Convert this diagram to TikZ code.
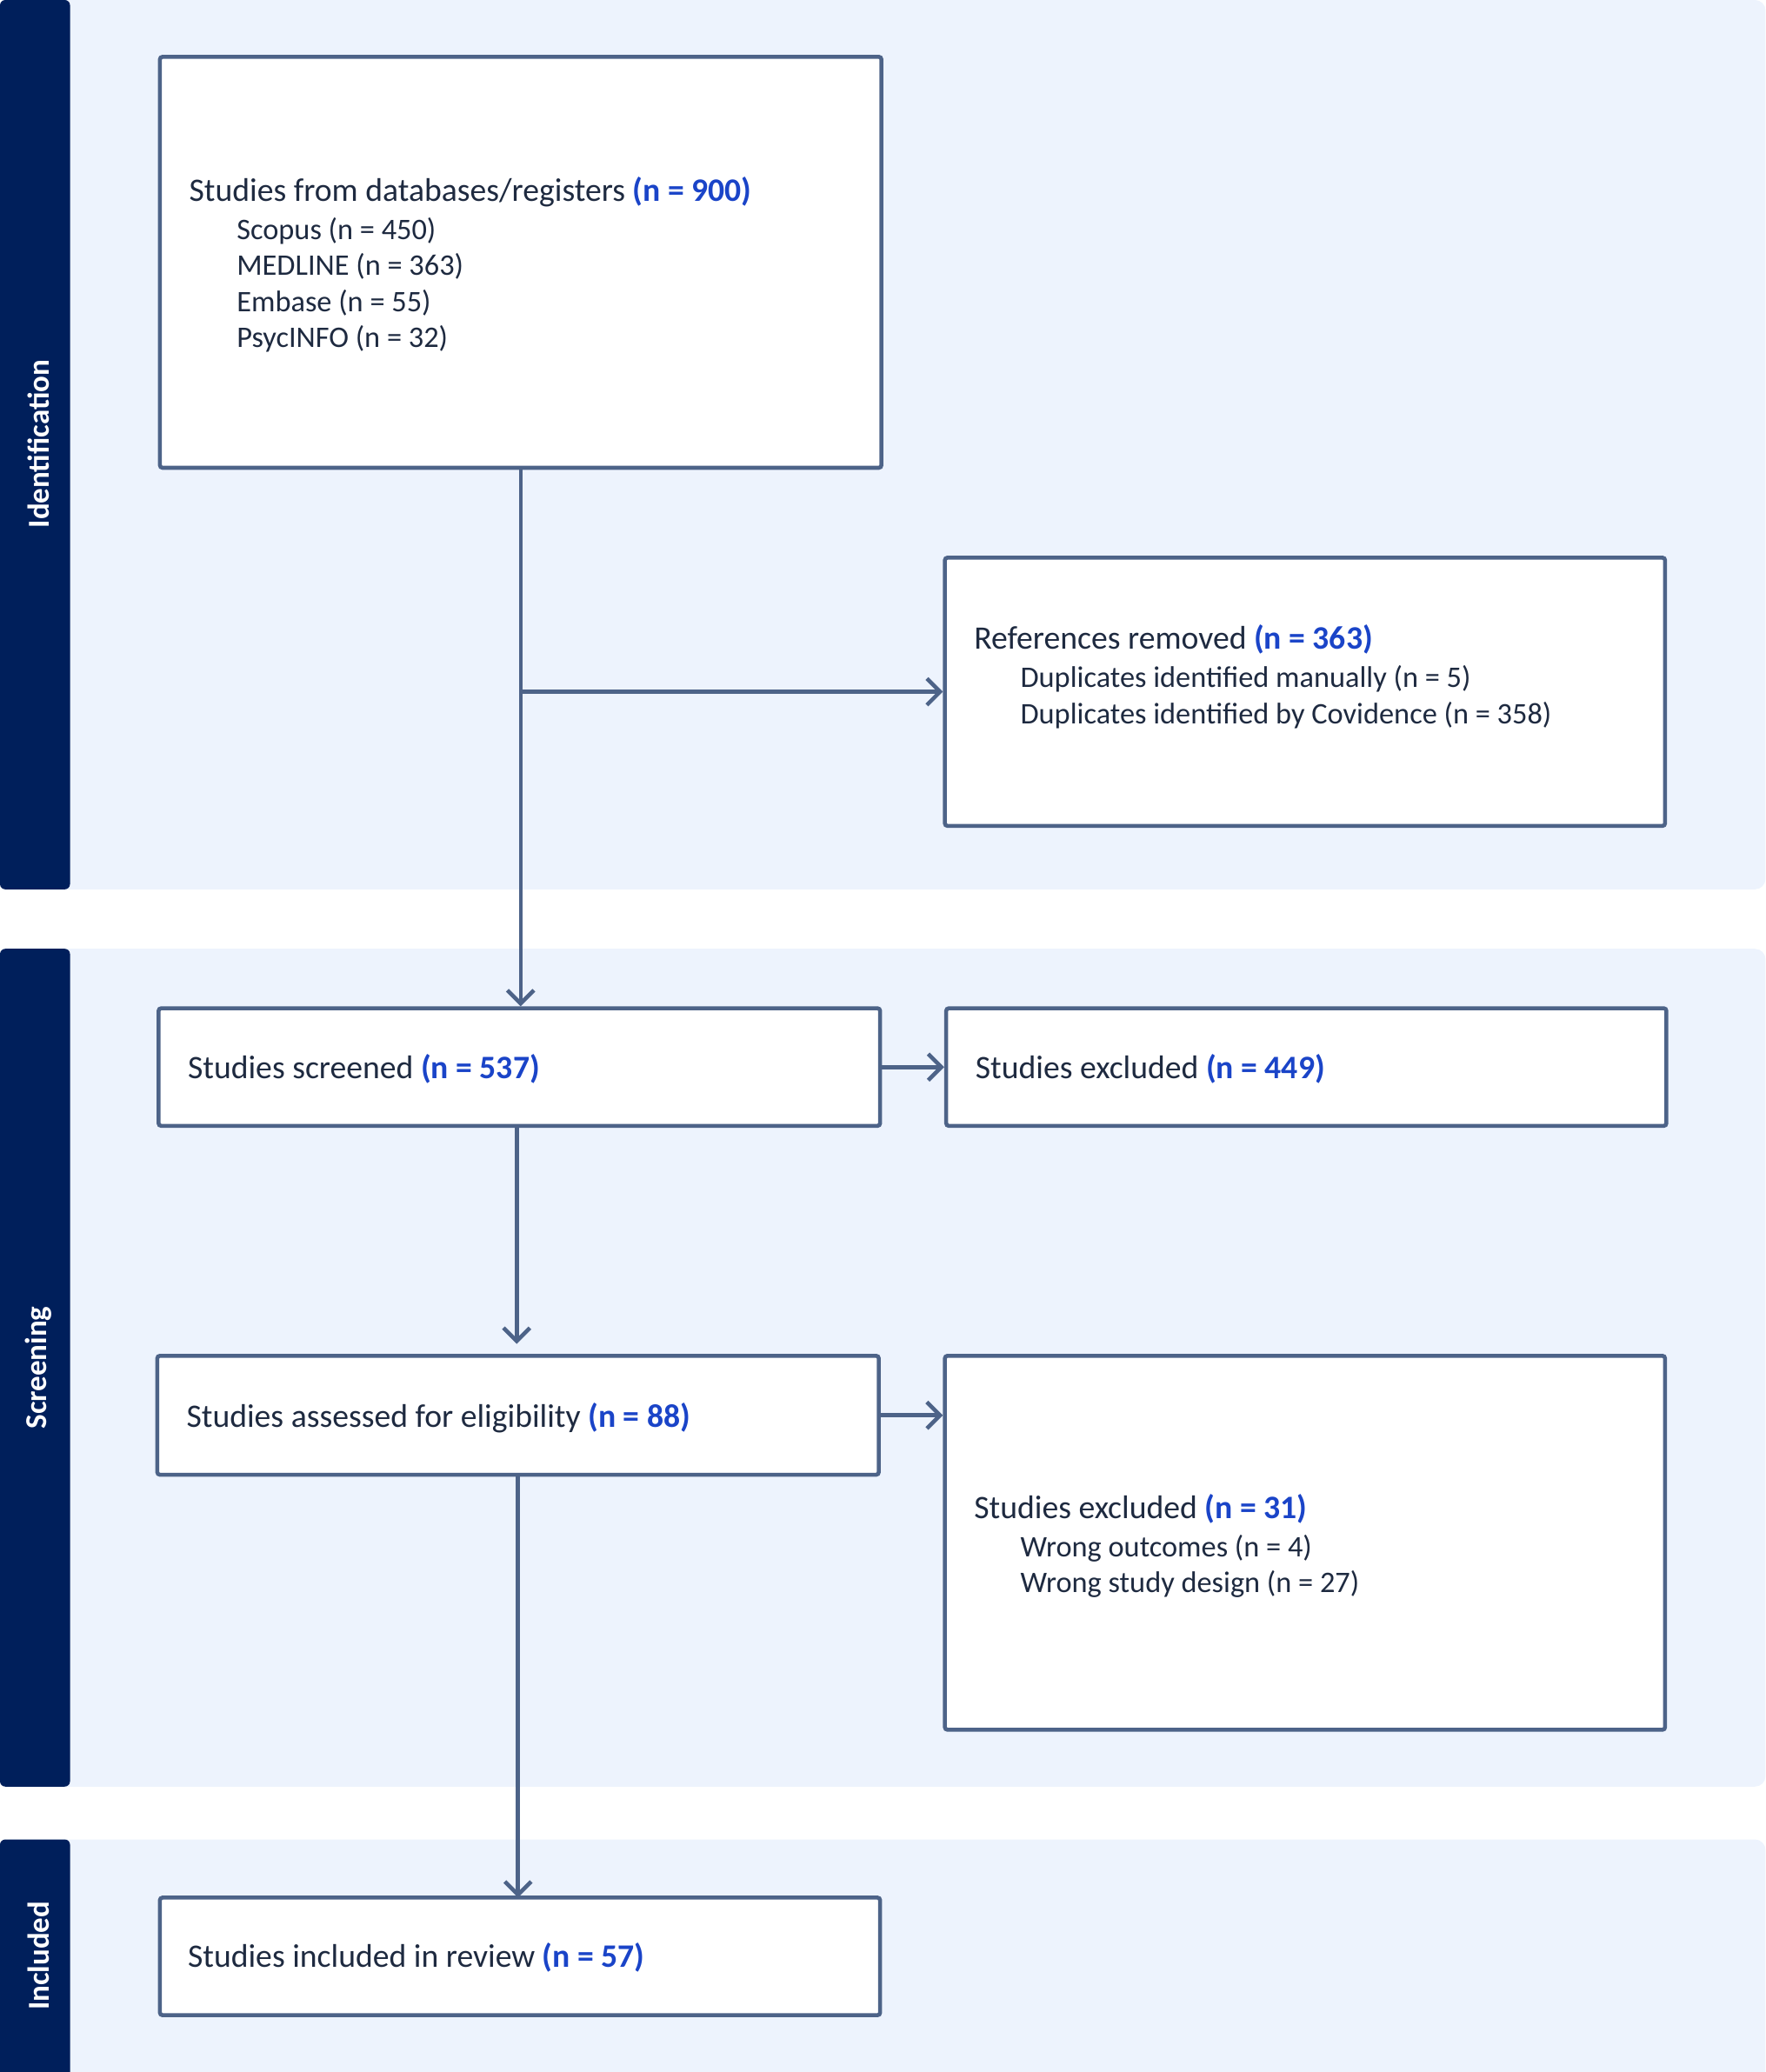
\documentclass[tikz,border=0pt]{standalone}
\usepackage{fontspec}
\setmainfont{Carlito}
\usetikzlibrary{arrows.meta}
\definecolor{band}{HTML}{EDF3FD}
\definecolor{navy}{HTML}{001F5B}
\definecolor{edge}{HTML}{4D6388}
\definecolor{nblue}{HTML}{1A44C8}
\definecolor{txt}{HTML}{1E2A40}
\begin{document}
\begin{tikzpicture}[x=1pt,y=-1pt,
  box/.style={draw=edge,line width=3pt,fill=white,rounded corners=2pt,inner sep=0pt},
  t/.style={anchor=base west,inner sep=0pt,font=\fontsize{24.8}{28}\selectfont,text=txt},
  s/.style={t,font=\fontsize{22.6}{26}\selectfont},
  lab/.style={rotate=90,text=white,font=\fontsize{23}{26}\selectfont\bfseries},
  arr/.style={draw=edge,line width=3pt,-{Straight Barb[length=10pt,width=20pt,line width=3pt]}},
  ln/.style={draw=edge,line width=3pt}]
\newcommand{\nb}[1]{\textcolor{nblue}{\textbf{#1}}}
\useasboundingbox (0,0) rectangle (1336,1568);
% bands
\fill[band,rounded corners=8pt] (0,0) rectangle (1336,673);
\fill[band,rounded corners=8pt] (0,718) rectangle (1336,1352);
\fill[band,rounded corners=8pt] (0,1392) rectangle (1336,1580);
\fill[navy,rounded corners=4pt] (0,0) rectangle (53,673);
\fill[navy,rounded corners=4pt] (0,718) rectangle (53,1352);
\fill[navy,rounded corners=4pt] (0,1392) rectangle (53,1580);
\node[lab] (l1) at (29,336) {Identification};
\node[lab] (l2) at (29,1035) {Screening};
\node[lab] (l3) at (29,1480) {Included};
% boxes
\node[box,minimum width=546,minimum height=311] (b1) at (394,198.5) {};
\node[box,minimum width=545,minimum height=203] (b2) at (987.5,523.5) {};
\node[box,minimum width=546,minimum height=89] (b3) at (393,807.5) {};
\node[box,minimum width=545,minimum height=89] (b4) at (988.5,807.5) {};
\node[box,minimum width=546,minimum height=90] (b5) at (392,1071) {};
\node[box,minimum width=545,minimum height=283] (b6) at (987.5,1167.5) {};
\node[box,minimum width=545,minimum height=89] (b7) at (393.5,1480.5) {};
% texts
\node[t] (a1) at (143,152) {Studies from databases/registers \nb{(n = 900)}};
\node[s] (a2) at (179,181) {Scopus (n = 450)};
\node[s] (a3) at (179,208) {MEDLINE (n = 363)};
\node[s] (a4) at (179,236) {Embase (n = 55)};
\node[s] (a5) at (179,263) {PsycINFO (n = 32)};
\node[t] (c1) at (737,491) {References removed \nb{(n = 363)}};
\node[s] (c2) at (772,520) {Duplicates identified manually (n = 5)};
\node[s] (c3) at (772,548) {Duplicates identified by Covidence (n = 358)};
\node[t] (d1) at (142,816) {Studies screened \nb{(n = 537)}};
\node[t] (e1) at (738,816) {Studies excluded \nb{(n = 449)}};
\node[t] (f1) at (141,1080) {Studies assessed for eligibility \nb{(n = 88)}};
\node[t] (g1) at (737,1149) {Studies excluded \nb{(n = 31)}};
\node[s] (g2) at (772,1178) {Wrong outcomes (n = 4)};
\node[s] (g3) at (772,1205) {Wrong study design (n = 27)};
\node[t] (h1) at (142,1489) {Studies included in review \nb{(n = 57)}};
% connectors
\coordinate (j) at (b1.south |- b2.west);
\draw[arr] (b1.south) -- (b1.south |- b3.north);
\draw[arr] (j) -- (b2.west);
\draw[arr] (b3.east) -- (b4.west);
\draw[arr] (b3.south -| 391,0) -- (391,1017);
\draw[arr] (b5.east) -- (b6.west |- b5.east);
\draw[arr] (b5.south -| 392,0) -- (392,1436);
\end{tikzpicture}
\end{document}
